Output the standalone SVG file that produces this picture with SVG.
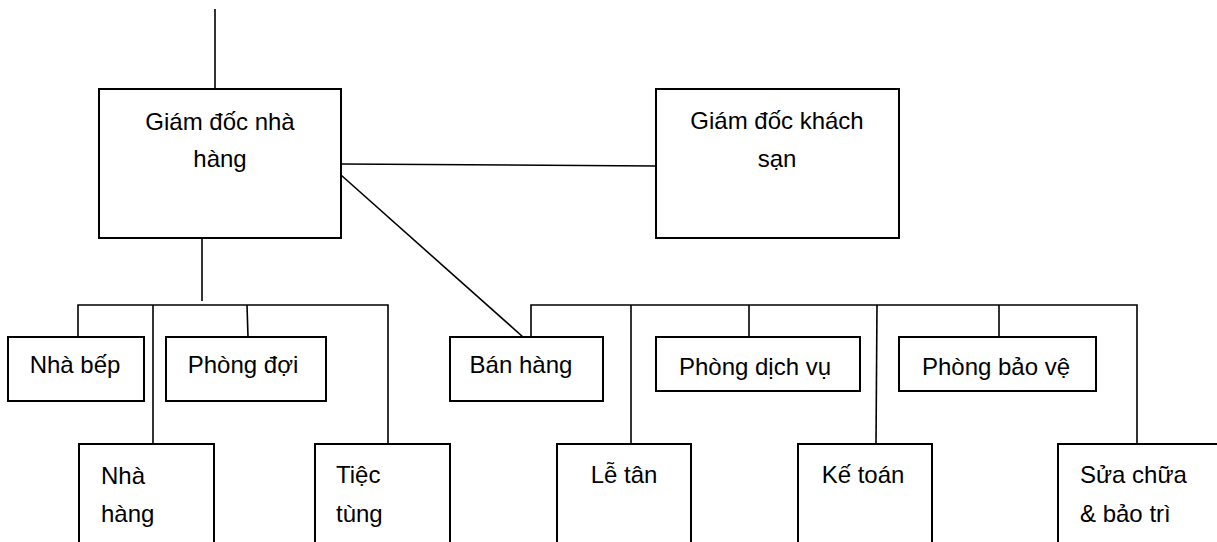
<svg xmlns="http://www.w3.org/2000/svg" width="1217" height="542" viewBox="0 0 1217 542">
<style>
.box{fill:#fff;stroke:#000;stroke-width:2}
.ln{fill:none;stroke:#000;stroke-width:1.6}
text{font-family:"Liberation Sans",Arial,sans-serif;font-size:24px;fill:#000}
.c{text-anchor:middle}
</style>
<rect width="1217" height="542" fill="#fff"/>
<g id="connectors">
<line class="ln" x1="215" y1="9" x2="215" y2="89"/>
<line class="ln" x1="341" y1="164" x2="656" y2="166"/>
<line class="ln" x1="341" y1="175" x2="523" y2="337"/>
<line class="ln" x1="202" y1="238" x2="202" y2="301"/>
<polyline class="ln" points="78,337 78,305 388,305 388,444"/>
<line class="ln" x1="153" y1="305" x2="153" y2="444"/>
<line class="ln" x1="247" y1="305" x2="248" y2="337"/>
<polyline class="ln" points="531,337 531,305 1137,305 1137,444"/>
<line class="ln" x1="631" y1="305" x2="631" y2="444"/>
<line class="ln" x1="749" y1="305" x2="749" y2="337"/>
<line class="ln" x1="877" y1="305" x2="876" y2="444"/>
<line class="ln" x1="999" y1="305" x2="999" y2="337"/>
</g>
<g id="gd-nha-hang"><rect class="box" x="99" y="89" width="242" height="149"/><text class="c" x="220" y="130">Giám đốc nhà</text><text class="c" x="220" y="167">hàng</text></g>
<g id="gd-khach-san"><rect class="box" x="656" y="89" width="243" height="149"/><text class="c" x="777" y="129">Giám đốc khách</text><text class="c" x="777" y="167">sạn</text></g>
<g id="nha-bep"><rect class="box" x="8" y="337" width="136" height="64"/><text class="c" x="75" y="373">Nhà bếp</text></g>
<g id="phong-doi"><rect class="box" x="166" y="337" width="160" height="64"/><text class="c" x="243" y="373">Phòng đợi</text></g>
<g id="nha-hang"><rect class="box" x="79" y="444" width="135" height="120"/><text x="101" y="484">Nhà</text><text x="101" y="522">hàng</text></g>
<g id="tiec-tung"><rect class="box" x="315" y="444" width="135" height="120"/><text x="336" y="483">Tiệc</text><text x="336" y="522">tùng</text></g>
<g id="ban-hang"><rect class="box" x="450" y="337" width="153" height="64"/><text class="c" x="521" y="373">Bán hàng</text></g>
<g id="phong-dich-vu"><rect class="box" x="656" y="337" width="204" height="54"/><text class="c" x="755" y="375">Phòng dịch vụ</text></g>
<g id="phong-bao-ve"><rect class="box" x="899" y="337" width="197" height="54"/><text class="c" x="996" y="375">Phòng bảo vệ</text></g>
<g id="le-tan"><rect class="box" x="557" y="444" width="134" height="120"/><text class="c" x="624" y="483">Lễ tân</text></g>
<g id="ke-toan"><rect class="box" x="798" y="444" width="134" height="120"/><text class="c" x="863" y="483">Kế toán</text></g>
<g id="sua-chua"><rect class="box" x="1058" y="444" width="170" height="120"/><text x="1080" y="483">Sửa chữa</text><text x="1080" y="522">&amp; bảo trì</text></g>
</svg>
